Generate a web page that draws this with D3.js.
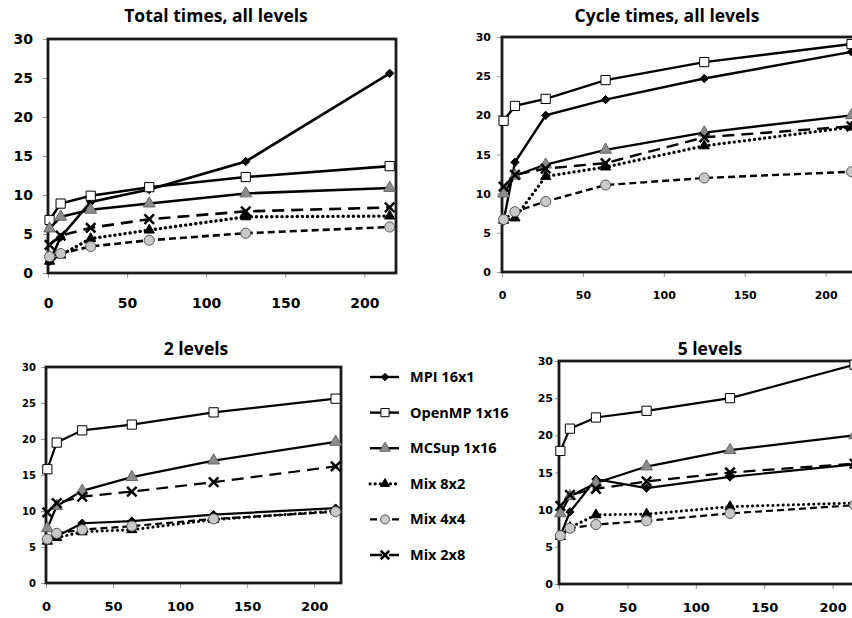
<!DOCTYPE html><meta charset="utf-8">
<title>Times by levels</title>
<style>
  body{margin:0;background:#fff}
  svg{display:block}
</style>
<script src="https://d3js.org/d3.v7.min.js"></script>
<body><script>
const cores = [1, 8, 27, 64, 125, 216];
const seriesNames = ["MPI 16x1", "OpenMP 1x16", "MCSup 1x16", "Mix 8x2", "Mix 4x4", "Mix 2x8"];
const xTicks = [0, 50, 100, 150, 200];
const yTicks = [0, 5, 10, 15, 20, 25, 30];

// one row per series, same order as seriesNames
const totalAll = [
  [1.5, 4.6, 9.1, 10.7, 14.3, 25.6],
  [6.8, 8.9, 9.9, 11.0, 12.3, 13.7],
  [5.7, 7.2, 8.1, 8.9, 10.2, 10.9],
  [1.5, 2.3, 4.4, 5.5, 7.2, 7.3],
  [2.1, 2.5, 3.4, 4.2, 5.1, 5.9],
  [3.6, 4.8, 5.8, 6.9, 7.9, 8.4]
];
const cycleAll = [
  [6.5, 14.0, 20.0, 22.0, 24.7, 28.1],
  [19.3, 21.2, 22.1, 24.5, 26.8, 29.1],
  [10.0, 12.3, 13.7, 15.6, 17.8, 20.0],
  [6.6, 6.9, 12.2, 13.4, 16.1, 18.5],
  [6.7, 7.7, 9.0, 11.1, 12.0, 12.8],
  [10.9, 12.4, 13.2, 13.9, 17.2, 18.6]
];
const twoLevels = [
  [6.0, 6.5, 8.3, 8.6, 9.5, 10.4],
  [15.8, 19.5, 21.2, 22.0, 23.7, 25.6],
  [7.6, 10.7, 12.8, 14.7, 17.0, 19.6],
  [5.8, 6.3, 7.1, 7.4, 8.8, 10.0],
  [6.1, 6.9, 7.4, 7.9, 8.9, 9.9],
  [9.8, 11.1, 12.0, 12.7, 14.0, 16.2]
];
const fiveLevels = [
  [6.5, 9.7, 14.1, 12.9, 14.4, 16.1],
  [17.9, 20.9, 22.4, 23.3, 25.0, 29.5],
  [9.5, 11.8, 13.6, 15.8, 18.0, 20.0],
  [6.4, 7.6, 9.3, 9.4, 10.4, 10.9],
  [6.5, 7.5, 8.0, 8.5, 9.5, 10.6],
  [10.5, 12.0, 12.8, 13.8, 15.0, 16.2]
];

/* ---- marker shapes ---- */
const symX = {draw(c, s){const r = Math.sqrt(s)/2; c.moveTo(-r,-r); c.lineTo(r,r); c.moveTo(r,-r); c.lineTo(-r,r);}};
const symDiamond = {draw(c, s){const r = Math.sqrt(s)/2; c.moveTo(0,-r); c.lineTo(r,0); c.lineTo(0,r); c.lineTo(-r,0); c.closePath();}};

const styles = [
  {dash:null,     cap:"butt",  sym:symDiamond,       size:70,  fill:"#000",    stroke:"#000", sw:1},
  {dash:null,     cap:"butt",  sym:d3.symbolSquare,  size:85,  fill:"#fff",    stroke:"#000", sw:1},
  {dash:null,     cap:"butt",  sym:d3.symbolTriangle,size:60,  fill:"#8c8c8c", stroke:"#666", sw:1},
  {dash:"0.1 5",  cap:"round", sym:d3.symbolTriangle,size:45,  fill:"#000",    stroke:"#000", sw:1},
  {dash:"7 4",    cap:"butt",  sym:d3.symbolCircle,  size:80,  fill:"#c8c8c8", stroke:"#555", sw:1},
  {dash:"12 7",   cap:"butt",  sym:symX,             size:90,  fill:"none",    stroke:"#000", sw:2.5}
];

const svg = d3.select("body").append("svg").attr("width", 852).attr("height", 618);

const panels = [
  {title:"Total times, all levels", data:totalAll,  l:48,  r:396, t:39,  b:273, tx:216, ty:22,
   yFont:14, xFont:14, yPad:10, ySize:5, xPad:20, lw:2.6},
  {title:"Cycle times, all levels", data:cycleAll,  l:502, r:858, t:37,  b:272, tx:667, ty:22,
   yFont:11, xFont:11, yPad:6, ySize:5, xPad:14, lw:2.4},
  {title:"2 levels",                data:twoLevels, l:46,  r:341, t:367, b:583, tx:196, ty:355,
   yFont:10, xFont:13, yPad:5, ySize:5, xPad:14, lw:2.2},
  {title:"5 levels",                data:fiveLevels,l:559, r:860, t:361, b:584, tx:710, ty:355,
   yFont:11, xFont:13, yPad:2, ySize:4, xPad:14, lw:2.2}
];

for (const p of panels) {
  const x = d3.scaleLinear().domain([0, 220]).range([p.l, p.r]);
  const y = d3.scaleLinear().domain([0, 30]).range([p.b, p.t]);
  const g = svg.append("g");

  const ya = g.append("g").attr("transform", `translate(${p.l},0)`)
    .call(d3.axisLeft(y).tickValues(yTicks).tickSize(p.ySize).tickPadding(p.yPad));
  const xa = g.append("g").attr("transform", `translate(0,${p.b})`)
    .call(d3.axisBottom(x).tickValues(xTicks).tickSize(5).tickPadding(p.xPad));
  for (const [a, fs] of [[ya, p.yFont], [xa, p.xFont]]) {
    a.select(".domain").remove();
    a.selectAll("line").attr("stroke", "#999");
    a.selectAll("text").attr("font-family", "DejaVu Sans").attr("font-weight", "bold")
      .attr("font-size", fs).attr("fill", "#000");
  }

  g.append("rect").attr("x", p.l).attr("y", p.t).attr("width", p.r - p.l).attr("height", p.b - p.t)
    .attr("fill", "none").attr("stroke", "#1a1a1a").attr("stroke-width", 2.8);

  g.append("text").attr("x", p.tx).attr("y", p.ty).attr("text-anchor", "middle")
    .attr("font-family", "Open Sans").attr("font-weight", "bold").attr("font-size", 17.5).text(p.title);

  const line = d3.line().x((d, i) => x(cores[i])).y(d => y(d));
  p.data.forEach((vals, si) => {
    const st = styles[si];
    g.append("path").attr("d", line(vals)).attr("fill", "none").attr("stroke", "#000")
      .attr("stroke-width", si === 3 ? p.lw + 0.8 : p.lw)
      .attr("stroke-dasharray", st.dash).attr("stroke-linecap", st.cap);
    g.selectAll(null).data(vals).enter().append("path")
      .attr("transform", (d, i) => `translate(${x(cores[i])},${y(d)})`)
      .attr("d", d3.symbol(st.sym, st.size))
      .attr("fill", st.fill).attr("stroke", st.stroke).attr("stroke-width", st.sw);
  });
}

/* ---- legend ---- */
const legY = d3.scalePoint().domain(seriesNames).range([377, 555]);
const leg = svg.append("g");
seriesNames.forEach((name, si) => {
  const st = styles[si], yy = legY(name);
  leg.append("line").attr("x1", 370).attr("x2", 399).attr("y1", yy).attr("y2", yy)
    .attr("stroke", "#000").attr("stroke-width", si === 3 ? 3.2 : 2.4)
    .attr("stroke-dasharray", st.dash).attr("stroke-linecap", st.cap);
  leg.append("path").attr("transform", `translate(385,${yy})`)
    .attr("d", d3.symbol(st.sym, st.size * 0.8))
    .attr("fill", st.fill).attr("stroke", st.stroke).attr("stroke-width", st.sw);
  leg.append("text").attr("x", 410).attr("y", yy).attr("dy", "0.35em")
    .attr("font-family", "Open Sans").attr("font-weight", "bold").attr("font-size", 14.5).text(name);
});
</script>
